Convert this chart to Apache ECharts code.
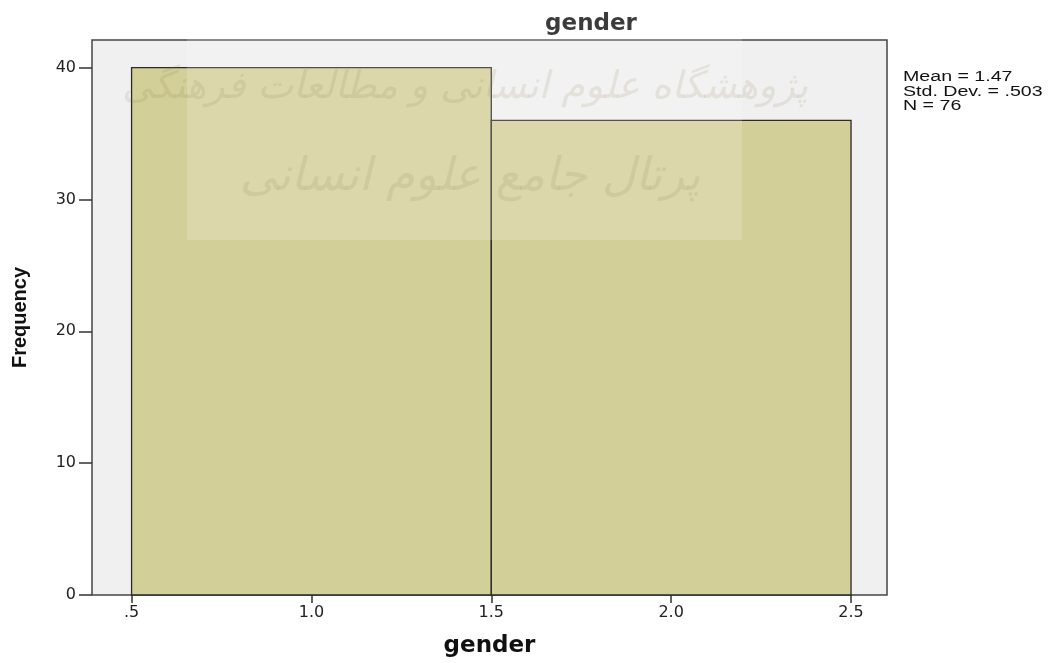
<!DOCTYPE html>
<html>
<head>
<meta charset="utf-8">
<script src="https://cdn.jsdelivr.net/npm/echarts@6/dist/echarts.min.js"></script>
<style>
  html, body { margin: 0; padding: 0; background: #fff; }
  #chart { width: 1055px; height: 663px; }
</style>
</head>
<body>
<div id="chart"></div>
<script>
// histogram bins (lower edge, upper edge) and counts
const binStart = [0.5, 1.5]
const binEnd = [1.5, 2.5]
const frequency = [40, 36]
const xTicks = [0.5, 1.0, 1.5, 2.0, 2.5]
const yTicks = [0, 10, 20, 30, 40]
const statsText = ['Mean = 1.47', 'Std. Dev. = .503', 'N = 76']
const watermarkTop = 'پژوهشگاه علوم انسانی و مطالعات فرهنگی'
const watermarkBottom = 'پرتال جامع علوم انسانی'

const chart = echarts.init(document.getElementById('chart'))

const bins = binStart.map(function(s, i) {
  return [s, binEnd[i], frequency[i]]
})

const option = {
  animation: false,
  backgroundColor: '#ffffff',
  title: {
    text: 'gender',
    left: 586,
    top: 8,
    textAlign: 'center',
    textStyle: {
      fontFamily: 'DejaVu Sans',
      fontWeight: 'bold',
      fontSize: 23,
      color: '#111'
    }
  },
  grid: {
    left: 92,
    right: 168,
    top: 40,
    bottom: 61,
    show: true,
    backgroundColor: '#f0f0f0',
    borderColor: '#444',
    borderWidth: 1.5
  },
  xAxis: {
    type: 'value',
    min: 0.39,
    max: 2.6,
    name: 'gender',
    nameLocation: 'middle',
    nameGap: 40,
    nameTextStyle: {
      fontFamily: 'DejaVu Sans',
      fontWeight: 'bold',
      fontSize: 23,
      color: '#111'
    },
    axisLine: { show: false },
    splitLine: { show: false },
    axisTick: {
      show: true,
      inside: false,
      length: 8,
      customValues: xTicks,
      lineStyle: { color: '#333', width: 1.5 }
    },
    axisLabel: {
      customValues: xTicks,
      margin: 10,
      fontFamily: 'DejaVu Sans',
      fontSize: 16,
      color: '#222',
      formatter: function(v) {
        return v === 0.5 ? '.5' : v.toFixed(1)
      }
    }
  },
  yAxis: {
    type: 'value',
    min: 0,
    max: 42.1,
    name: 'Frequency',
    nameLocation: 'middle',
    nameGap: 62,
    nameTextStyle: {
      fontFamily: 'Liberation Sans',
      fontWeight: 'bold',
      fontSize: 20,
      color: '#111'
    },
    axisLine: { show: false },
    splitLine: { show: false },
    axisTick: {
      show: true,
      inside: false,
      length: 13,
      customValues: yTicks,
      lineStyle: { color: '#333', width: 1.5 }
    },
    axisLabel: {
      customValues: yTicks,
      margin: 16,
      fontFamily: 'DejaVu Sans',
      fontSize: 16,
      color: '#222'
    }
  },
  series: [
    {
      type: 'custom',
      data: bins,
      encode: { x: [0, 1], y: 2 },
      renderItem: function(params, api) {
        const p0 = api.coord([api.value(0), api.value(2)])
        const p1 = api.coord([api.value(1), 0])
        return {
          type: 'rect',
          shape: { x: p0[0], y: p0[1], width: p1[0] - p0[0], height: p1[1] - p0[1] },
          style: { fill: '#d3cf98', stroke: '#2a2a2a', lineWidth: 1.3 }
        }
      }
    }
  ],
  graphic: [
    {
      type: 'rect',
      z: 100,
      silent: true,
      shape: { x: 187, y: 0, width: 555, height: 240 },
      style: { fill: 'rgba(255,255,255,0.18)' }
    },
    {
      type: 'text',
      z: 101,
      silent: true,
      x: 465,
      y: 88,
      style: {
        text: watermarkTop,
        align: 'center',
        verticalAlign: 'middle',
        font: 'italic 38px "DejaVu Sans"',
        fill: 'rgba(140,130,80,0.15)'
      }
    },
    {
      type: 'text',
      z: 101,
      silent: true,
      x: 470,
      y: 178,
      style: {
        text: watermarkBottom,
        align: 'center',
        verticalAlign: 'middle',
        font: 'italic 46px "DejaVu Sans"',
        fill: 'rgba(140,130,80,0.15)'
      }
    },
    {
      type: 'text',
      x: 903,
      y: 70,
      scaleX: 1.4,
      style: {
        text: statsText.join('\n'),
        font: '14px "Liberation Sans"',
        lineHeight: 14.5,
        fill: '#111'
      }
    }
  ]
}

chart.setOption(option)
</script>
</body>
</html>
